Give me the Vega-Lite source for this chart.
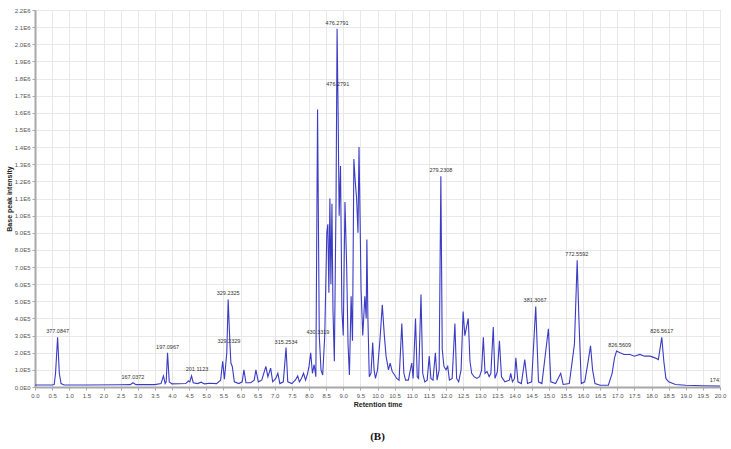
{
  "$schema": "https://vega.github.io/schema/vega-lite/v6.json",
  "width": 685,
  "height": 377,
  "autosize": "none",
  "padding": {"left": 35, "top": 10, "right": 11, "bottom": 62},
  "background": "white",
  "config": {
    "view": {"stroke": "#b4b4b4", "strokeWidth": 1},
    "axis": {
      "labelFont": "Liberation Sans",
      "labelFontSize": 6,
      "labelColor": "#555555",
      "titleFont": "Liberation Sans",
      "titleFontSize": 7,
      "titleFontWeight": "bold",
      "titleColor": "#222222",
      "gridColor": "#e8e8e8",
      "gridWidth": 1,
      "domainColor": "#a8a8a8",
      "domainWidth": 2,
      "tickColor": "#a8a8a8",
      "tickSize": 3
    }
  },
  "title": {
    "text": "(B)",
    "orient": "bottom",
    "font": "Liberation Serif",
    "fontSize": 11,
    "fontWeight": "bold",
    "color": "#111111",
    "offset": 24
  },
  "datasets": {
    "series": [
      {"t": 0.0, "i": 12000}, {"t": 0.5, "i": 12000}, {"t": 0.56, "i": 14000}, {"t": 0.6, "i": 80000},
      {"t": 0.66, "i": 290000}, {"t": 0.71, "i": 80000}, {"t": 0.76, "i": 20000}, {"t": 0.85, "i": 12000},
      {"t": 1.5, "i": 12000}, {"t": 2.5, "i": 13000}, {"t": 2.78, "i": 14000}, {"t": 2.86, "i": 25000},
      {"t": 2.95, "i": 14000}, {"t": 3.5, "i": 14000}, {"t": 3.68, "i": 20000}, {"t": 3.75, "i": 65000},
      {"t": 3.8, "i": 20000}, {"t": 3.83, "i": 30000}, {"t": 3.87, "i": 200000}, {"t": 3.92, "i": 30000},
      {"t": 4.0, "i": 18000}, {"t": 4.4, "i": 20000}, {"t": 4.48, "i": 35000}, {"t": 4.52, "i": 30000},
      {"t": 4.57, "i": 65000}, {"t": 4.62, "i": 25000}, {"t": 4.75, "i": 20000}, {"t": 4.85, "i": 28000},
      {"t": 4.95, "i": 18000}, {"t": 5.1, "i": 22000}, {"t": 5.3, "i": 20000}, {"t": 5.42, "i": 40000},
      {"t": 5.48, "i": 150000}, {"t": 5.53, "i": 45000}, {"t": 5.6, "i": 200000}, {"t": 5.64, "i": 510000},
      {"t": 5.69, "i": 260000}, {"t": 5.72, "i": 140000}, {"t": 5.76, "i": 120000}, {"t": 5.82, "i": 30000},
      {"t": 5.95, "i": 20000}, {"t": 6.05, "i": 30000}, {"t": 6.1, "i": 100000}, {"t": 6.16, "i": 25000},
      {"t": 6.3, "i": 25000}, {"t": 6.4, "i": 40000}, {"t": 6.45, "i": 100000}, {"t": 6.52, "i": 30000},
      {"t": 6.62, "i": 40000}, {"t": 6.68, "i": 80000}, {"t": 6.74, "i": 120000}, {"t": 6.8, "i": 60000},
      {"t": 6.88, "i": 110000}, {"t": 6.94, "i": 30000}, {"t": 7.03, "i": 50000}, {"t": 7.09, "i": 80000},
      {"t": 7.15, "i": 20000}, {"t": 7.25, "i": 30000}, {"t": 7.33, "i": 230000}, {"t": 7.38, "i": 30000},
      {"t": 7.5, "i": 20000}, {"t": 7.6, "i": 40000}, {"t": 7.67, "i": 65000}, {"t": 7.72, "i": 30000},
      {"t": 7.78, "i": 50000}, {"t": 7.84, "i": 80000}, {"t": 7.9, "i": 40000}, {"t": 7.96, "i": 80000},
      {"t": 8.0, "i": 120000}, {"t": 8.05, "i": 200000}, {"t": 8.1, "i": 80000}, {"t": 8.15, "i": 130000},
      {"t": 8.2, "i": 60000}, {"t": 8.25, "i": 1620000}, {"t": 8.3, "i": 300000}, {"t": 8.35, "i": 100000},
      {"t": 8.4, "i": 70000}, {"t": 8.46, "i": 300000}, {"t": 8.52, "i": 900000}, {"t": 8.55, "i": 950000},
      {"t": 8.58, "i": 550000}, {"t": 8.61, "i": 1100000}, {"t": 8.64, "i": 600000}, {"t": 8.67, "i": 1070000},
      {"t": 8.7, "i": 450000}, {"t": 8.74, "i": 150000}, {"t": 8.79, "i": 1100000}, {"t": 8.82, "i": 2090000},
      {"t": 8.85, "i": 1600000}, {"t": 8.88, "i": 1000000}, {"t": 8.92, "i": 1290000}, {"t": 8.96, "i": 450000},
      {"t": 9.0, "i": 300000}, {"t": 9.05, "i": 1080000}, {"t": 9.1, "i": 700000}, {"t": 9.14, "i": 250000},
      {"t": 9.18, "i": 70000}, {"t": 9.23, "i": 530000}, {"t": 9.27, "i": 270000}, {"t": 9.31, "i": 1330000},
      {"t": 9.35, "i": 1200000}, {"t": 9.39, "i": 1100000}, {"t": 9.43, "i": 900000}, {"t": 9.46, "i": 1400000},
      {"t": 9.49, "i": 1000000}, {"t": 9.52, "i": 570000}, {"t": 9.57, "i": 300000}, {"t": 9.63, "i": 530000},
      {"t": 9.67, "i": 400000}, {"t": 9.69, "i": 860000}, {"t": 9.72, "i": 400000}, {"t": 9.76, "i": 60000},
      {"t": 9.81, "i": 80000}, {"t": 9.86, "i": 260000}, {"t": 9.9, "i": 100000}, {"t": 9.94, "i": 50000},
      {"t": 10.0, "i": 100000}, {"t": 10.07, "i": 270000}, {"t": 10.14, "i": 480000}, {"t": 10.2, "i": 300000},
      {"t": 10.25, "i": 180000}, {"t": 10.32, "i": 100000}, {"t": 10.37, "i": 140000}, {"t": 10.43, "i": 90000},
      {"t": 10.5, "i": 70000}, {"t": 10.56, "i": 50000}, {"t": 10.63, "i": 40000}, {"t": 10.71, "i": 370000},
      {"t": 10.77, "i": 80000}, {"t": 10.82, "i": 40000}, {"t": 10.9, "i": 40000}, {"t": 11.0, "i": 140000},
      {"t": 11.04, "i": 50000}, {"t": 11.11, "i": 400000}, {"t": 11.16, "i": 60000}, {"t": 11.2, "i": 50000},
      {"t": 11.27, "i": 540000}, {"t": 11.32, "i": 80000}, {"t": 11.38, "i": 30000}, {"t": 11.45, "i": 40000},
      {"t": 11.51, "i": 180000}, {"t": 11.56, "i": 50000}, {"t": 11.62, "i": 40000}, {"t": 11.69, "i": 200000},
      {"t": 11.74, "i": 40000}, {"t": 11.8, "i": 100000}, {"t": 11.85, "i": 1230000}, {"t": 11.89, "i": 220000},
      {"t": 11.94, "i": 120000}, {"t": 12.0, "i": 100000}, {"t": 12.05, "i": 120000}, {"t": 12.1, "i": 40000},
      {"t": 12.18, "i": 50000}, {"t": 12.26, "i": 370000}, {"t": 12.31, "i": 50000}, {"t": 12.37, "i": 30000},
      {"t": 12.44, "i": 100000}, {"t": 12.5, "i": 440000}, {"t": 12.55, "i": 300000}, {"t": 12.6, "i": 350000},
      {"t": 12.65, "i": 400000}, {"t": 12.7, "i": 150000}, {"t": 12.75, "i": 80000}, {"t": 12.82, "i": 60000},
      {"t": 12.9, "i": 50000}, {"t": 12.98, "i": 60000}, {"t": 13.04, "i": 100000}, {"t": 13.09, "i": 290000},
      {"t": 13.14, "i": 80000}, {"t": 13.2, "i": 90000}, {"t": 13.26, "i": 60000}, {"t": 13.31, "i": 80000},
      {"t": 13.38, "i": 350000}, {"t": 13.43, "i": 50000}, {"t": 13.5, "i": 90000}, {"t": 13.56, "i": 270000},
      {"t": 13.62, "i": 60000}, {"t": 13.72, "i": 30000}, {"t": 13.85, "i": 40000}, {"t": 13.89, "i": 80000},
      {"t": 13.94, "i": 30000}, {"t": 14.0, "i": 50000}, {"t": 14.04, "i": 170000}, {"t": 14.1, "i": 30000},
      {"t": 14.2, "i": 20000}, {"t": 14.3, "i": 160000}, {"t": 14.38, "i": 20000}, {"t": 14.5, "i": 30000},
      {"t": 14.62, "i": 470000}, {"t": 14.7, "i": 30000}, {"t": 14.8, "i": 20000}, {"t": 14.99, "i": 340000},
      {"t": 15.06, "i": 30000}, {"t": 15.2, "i": 20000}, {"t": 15.35, "i": 80000}, {"t": 15.42, "i": 15000},
      {"t": 15.6, "i": 20000}, {"t": 15.75, "i": 250000}, {"t": 15.83, "i": 740000}, {"t": 15.88, "i": 400000},
      {"t": 15.95, "i": 20000}, {"t": 16.05, "i": 30000}, {"t": 16.15, "i": 150000}, {"t": 16.22, "i": 240000},
      {"t": 16.28, "i": 100000}, {"t": 16.35, "i": 20000}, {"t": 16.5, "i": 10000}, {"t": 16.74, "i": 10000},
      {"t": 16.85, "i": 80000}, {"t": 16.92, "i": 170000}, {"t": 16.98, "i": 210000}, {"t": 17.08, "i": 200000},
      {"t": 17.2, "i": 190000}, {"t": 17.37, "i": 190000}, {"t": 17.5, "i": 180000}, {"t": 17.66, "i": 190000},
      {"t": 17.8, "i": 180000}, {"t": 17.96, "i": 180000}, {"t": 18.1, "i": 170000}, {"t": 18.2, "i": 160000},
      {"t": 18.3, "i": 290000}, {"t": 18.36, "i": 150000}, {"t": 18.42, "i": 50000}, {"t": 18.5, "i": 30000},
      {"t": 18.7, "i": 15000}, {"t": 19.0, "i": 10000}, {"t": 19.5, "i": 7000}, {"t": 20.0, "i": 6000}
    ],
    "labels": [
      {"t": 0.66, "i": 315000, "label": "377.0847"},
      {"t": 2.86, "i": 47000, "label": "167.0372"},
      {"t": 3.87, "i": 222000, "label": "197.0967"},
      {"t": 4.73, "i": 93000, "label": "201.1123"},
      {"t": 5.64, "i": 537000, "label": "329.2325"},
      {"t": 5.66, "i": 257000, "label": "329.2329"},
      {"t": 7.33, "i": 251000, "label": "315.2534"},
      {"t": 8.26, "i": 309000, "label": "430.3319"},
      {"t": 8.82, "i": 2113000, "label": "476.2791"},
      {"t": 8.84, "i": 1757000, "label": "476.2791"},
      {"t": 11.85, "i": 1255000, "label": "279.2308"},
      {"t": 14.6, "i": 496000, "label": "381.3067"},
      {"t": 15.82, "i": 764000, "label": "772.5592"},
      {"t": 17.07, "i": 233000, "label": "826.5609"},
      {"t": 18.3, "i": 315000, "label": "826.5617"},
      {"t": 19.88, "i": 29000, "label": "1741"}
    ]
  },
  "encoding": {
    "x": {
      "field": "t", "type": "quantitative",
      "scale": {"domain": [0, 20], "nice": false, "zero": false},
      "axis": {
        "title": "Retention time",
        "values": [0,0.5,1,1.5,2,2.5,3,3.5,4,4.5,5,5.5,6,6.5,7,7.5,8,8.5,9,9.5,10,10.5,11,11.5,12,12.5,13,13.5,14,14.5,15,15.5,16,16.5,17,17.5,18,18.5,19,19.5,20],
        "labelExpr": "format(datum.value, '.1f')",
        "labelPadding": 2,
        "titlePadding": 2,
        "labelFlush": false,
        "labelOverlap": false
      }
    },
    "y": {
      "field": "i", "type": "quantitative",
      "scale": {"domain": [0, 2200000], "nice": false},
      "axis": {
        "title": "Base peak intensity",
        "values": [0,100000,200000,300000,400000,500000,600000,700000,800000,900000,1000000,1100000,1200000,1300000,1400000,1500000,1600000,1700000,1800000,1900000,2000000,2100000,2200000],
        "labelExpr": "datum.value == 0 ? '0.0E0' : (datum.value >= 999999 ? format(datum.value / 1000000, '.1f') + 'E6' : format(datum.value / 100000, '.1f') + 'E5')",
        "labelPadding": 2,
        "titlePadding": 2,
        "labelOverlap": false
      }
    }
  },
  "layer": [
    {
      "data": {"name": "series"},
      "mark": {"type": "line", "color": "#3b3bc4", "strokeWidth": 1.1, "clip": true}
    },
    {
      "data": {"name": "labels"},
      "mark": {"type": "text", "font": "Liberation Sans", "fontSize": 5.5, "color": "#333333", "align": "center", "baseline": "alphabetic", "clip": true},
      "encoding": {
        "text": {"field": "label"}
      }
    }
  ]
}
